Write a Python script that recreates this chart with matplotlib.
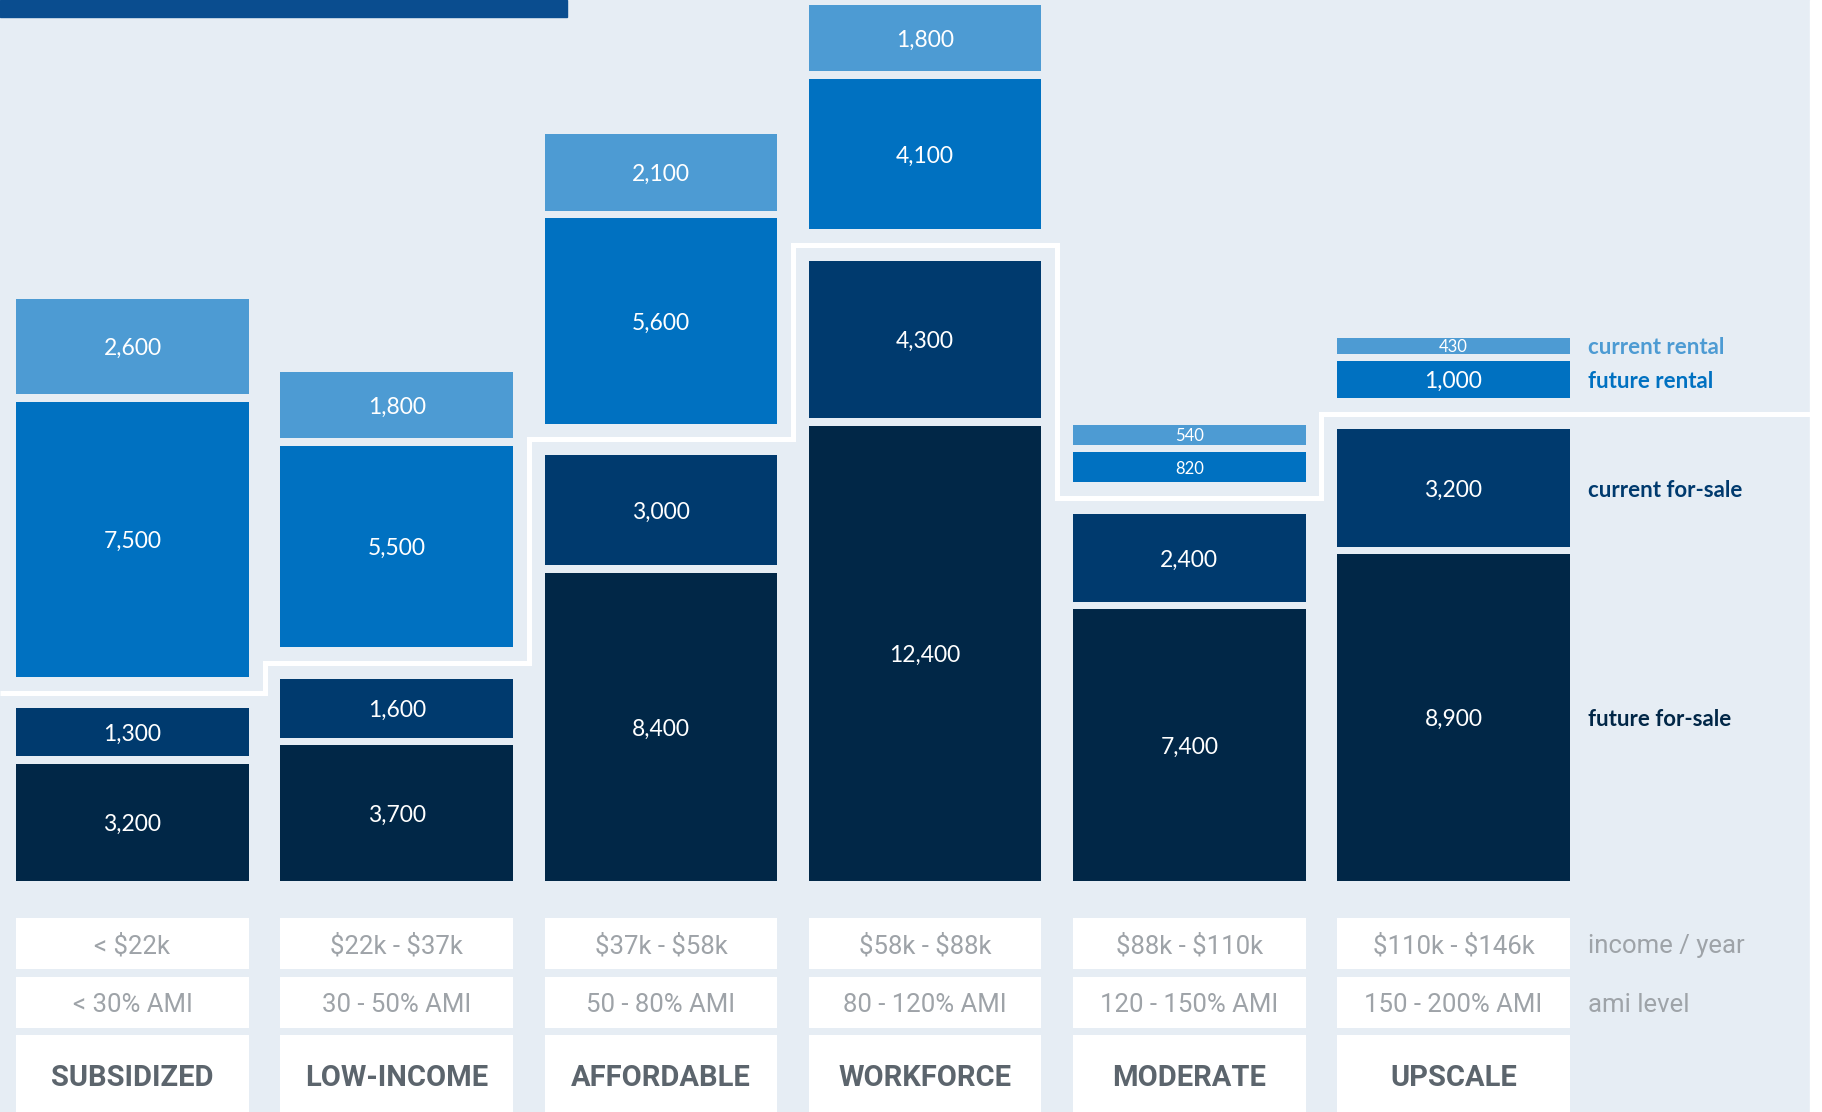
import matplotlib.pyplot as plt
from matplotlib.patches import Rectangle
import numpy as np

# tiers and their labels
tiers = ["SUBSIDIZED", "LOW-INCOME", "AFFORDABLE", "WORKFORCE", "MODERATE", "UPSCALE"]
income = ["< $22k", "$22k - $37k", "$37k - $58k", "$58k - $88k", "$88k - $110k", "$110k - $146k"]
ami = ["< 30% AMI", "30 - 50% AMI", "50 - 80% AMI", "80 - 120% AMI", "120 - 150% AMI", "150 - 200% AMI"]

# units per segment
future_sale = np.array([3200, 3700, 8400, 12400, 7400, 8900])
current_sale = np.array([1300, 1600, 3000, 4300, 2400, 3200])
future_rental = np.array([7500, 5500, 5600, 4100, 820, 1000])
current_rental = np.array([2600, 1800, 2100, 1800, 540, 430])

names = ["current rental", "future rental", "current for-sale", "future for-sale"]
colors = ["#4d9bd3", "#0071c1", "#003a6e", "#012747"]
bg = "#e6edf4"
plt.rcParams["text.parse_math"] = False

W, H = 1822, 1112
base = 881.0     # baseline, px from top
k = 0.0367       # px per unit
gap = 7.5 / k
big_gap = 31.5 / k
width = 0.88

def px(y):
    # pixel row (from top) -> data units
    return (base - y) / k

fig = plt.figure(figsize=(W / 100, H / 100), dpi=100, facecolor=bg)
ax = fig.add_axes([0, 0, 1, 1])
ax.set_xlim(-132.5 / 264.2, (W - 132.5) / 264.2)
ax.set_ylim(px(H), px(0))
ax.axis("off")

x = np.arange(len(tiers))
b_cs = future_sale + gap
b_fr = b_cs + current_sale + big_gap
b_cr = b_fr + future_rental + gap

stacks = [
    (current_rental, b_cr, colors[0]),
    (future_rental, b_fr, colors[1]),
    (current_sale, b_cs, colors[2]),
    (future_sale, np.zeros(6), colors[3]),
]
for vals, bottoms, c in stacks:
    ax.bar(x, vals, width=width, bottom=bottoms, color=c, linewidth=0, zorder=1)
    for xi, v, b in zip(x, vals, bottoms):
        fs = 12 if v < 900 else 16.5
        ax.text(xi, b + v / 2, f"{v:,}", ha="center", va="center_baseline",
                color="white", fontsize=fs, family="Lato", zorder=4)

# white divider between for-sale and rental
levels = future_sale + gap + current_sale + big_gap / 2
edges = np.concatenate([[ax.get_xlim()[0]], x[:-1] + 0.5, [(1810 - 132.5) / 264.2]])
ax.stairs(levels, edges, baseline=None, color="white", linewidth=3.6)

# series labels on the right, aligned with the last column
lx = (1588.5 - 132.5) / 264.2
last = len(tiers) - 1
for (vals, bottoms, c), name in zip(stacks, names):
    ax.text(lx, bottoms[last] + vals[last] / 2, name, ha="left", va="center_baseline",
            color=c, fontsize=16, family="Lato", weight="bold")

# rows below the chart
gray = "#9ea3a8"
rows = [(918, 968.7, income, 18.5, "normal", gray),
        (977, 1027.7, ami, 18.5, "normal", gray),
        (1035, 1120, tiers, 21, "bold", "#5c656d")]
for top, bot, labels, fs, wt, tc in rows:
    ax.bar(x, px(top) - px(bot), width=width, bottom=px(bot), color="white", linewidth=0)
    yc = px((top + bot) / 2) if bot < 1100 else px(1075)
    for xi, lab in zip(x, labels):
        ax.text(xi, yc, lab, ha="center", va="center_baseline", color=tc,
                fontsize=fs, family="Roboto", weight=wt)
ax.text(lx, px(943.3), "income / year", ha="left", va="center_baseline",
        color=gray, fontsize=18.5, family="Roboto")
ax.text(lx, px(1002.3), "ami level", ha="left", va="center_baseline",
        color=gray, fontsize=18.5, family="Roboto")

# top accent bar and white right strip
fig.patches.append(Rectangle((0, 1 - 17.4 / H), 567 / W, 17.4 / H,
                             transform=fig.transFigure, color="#0a4d8f", zorder=5))
fig.patches.append(Rectangle((1810 / W, 0), 12 / W, 1,
                             transform=fig.transFigure, color="white", zorder=5))

fig.savefig("out.png", dpi=100, facecolor=bg)
